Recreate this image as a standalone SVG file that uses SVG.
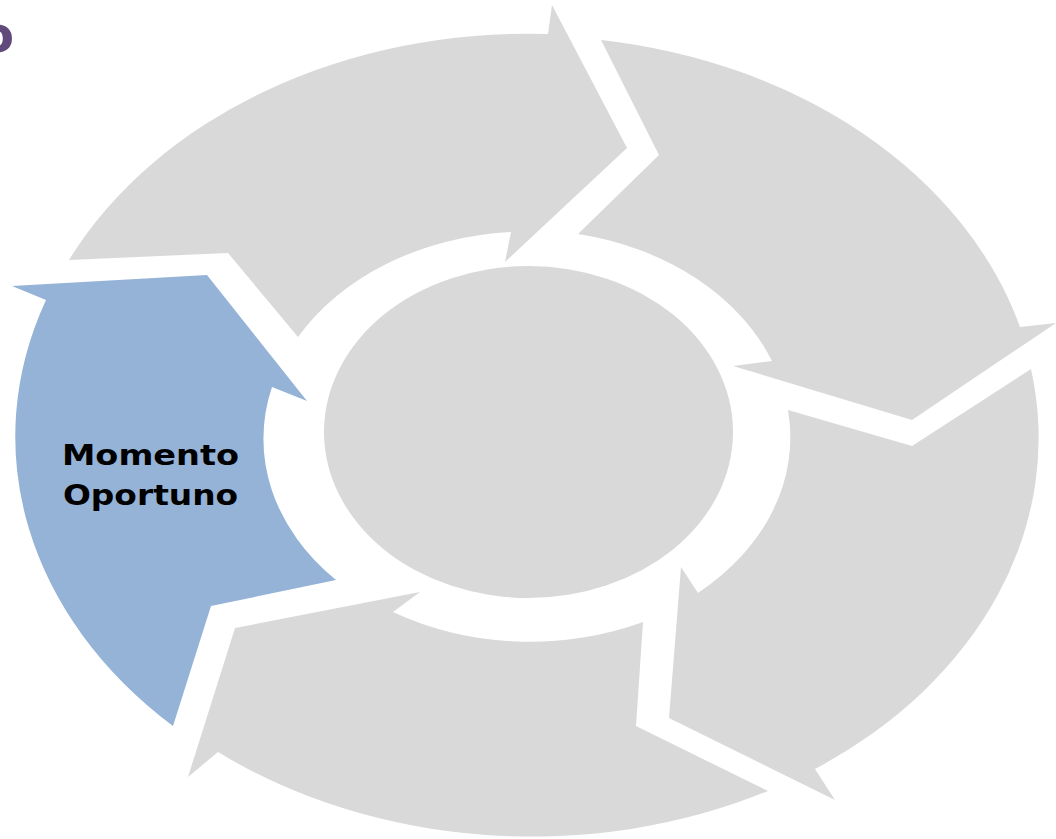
<svg xmlns="http://www.w3.org/2000/svg" width="1056" height="839" viewBox="0 0 1056 839">
<style>
.seg{fill:#d9d9d9;stroke:none}
.blue{fill:#95b3d7;stroke:none}
.lbl{font-family:"DejaVu Sans",Verdana,sans-serif;font-weight:bold;font-size:28px;fill:#000}
.ttl{font-family:"DejaVu Sans",Verdana,sans-serif;font-weight:bold;font-size:50px;fill:#604a7b}
</style>
<rect width="1056" height="839" fill="#fff"/>
<text class="ttl" x="14" y="52" text-anchor="end">o</text>
<g id="arrow-top-left"><path class="seg" d="M69 260 A510 400 0 0 1 548 34 L552 5 L627 148 L505 262 L511 232 A264 205 0 0 0 298 337 L228 253 Z"/></g>
<g id="arrow-top-right"><path class="seg" d="M601 40 A510 400 0 0 1 1020 327 L1056 323 L912 420 L733 366 L772 361 A264 205 0 0 0 578 234 L659 155 Z"/></g>
<g id="arrow-bottom-right"><path class="seg" d="M1031 369 A510 400 0 0 1 815 769 L835 800 L669 718 L681 567 L698 593 A264 205 0 0 0 788 410 L912 446 Z"/></g>
<g id="arrow-bottom-left"><path class="seg" d="M768 791 A510 400 0 0 1 218 752 L188 777 L235 628 L420 592 L393 612 A264 205 0 0 0 643 622 L636 726 Z"/></g>
<g id="arrow-momento"><path class="blue" d="M173 726 A510 400 0 0 1 46 300 L12 286 L207 275 L307 401 L272 387 A264 205 0 0 0 336 580 L211 606 Z"/>
<g transform="translate(62 0) scale(1.2 1)">
<text class="lbl" x="0" y="465" textLength="147.5" lengthAdjust="spacingAndGlyphs">Momento</text>
<text class="lbl" x="0.8" y="505" textLength="146" lengthAdjust="spacingAndGlyphs">Oportuno</text>
</g></g>
<g id="center"><ellipse class="seg" cx="528.5" cy="432" rx="204.5" ry="166"/></g>
<g id="connectors"></g>
</svg>
